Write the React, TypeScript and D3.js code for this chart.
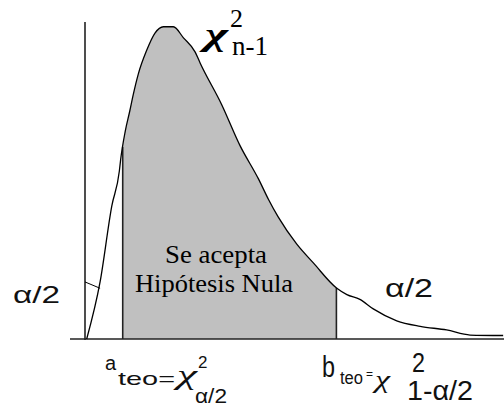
import React from "react";
import * as d3 from "d3";

// Chi-square density with n-1 degrees of freedom, sampled along the curve
const chiX = [0.04, 0.36, 0.64, 0.82, 0.85, 0.96, 1.07, 1.15, 1.27, 1.47, 1.67, 1.87, 2.11, 2.35, 2.63, 2.75, 3.26, 3.7, 4.14, 4.38, 4.61, 5.05, 5.45, 6.01, 6.25, 6.56, 6.88, 7.44, 8.0, 8.63, 9.19, 9.98];
const chiY = [0, 0.036, 0.084, 0.106, 0.113, 0.131, 0.144, 0.154, 0.167, 0.182, 0.193, 0.197, 0.197, 0.19, 0.181, 0.174, 0.148, 0.122, 0.101, 0.088, 0.077, 0.06, 0.048, 0.032, 0.028, 0.025, 0.019, 0.0115, 0.008, 0.0057, 0.0025, 0.0022];

// Critical values: acceptance region between a and b
const critA = 0.9;
const critB = 6.0;

// Leader line from the left alpha/2 label into the lower tail
const leaderFrom = [0, 0.036];
const leaderTo = [0.36, 0.032];

const W = 504;
const H = 412;

export default function App() {
  const x = d3.scaleLinear().domain([0, 10]).range([85, 504]);
  const y = d3.scaleLinear().domain([0, 0.2]).range([339, 22]);

  const pts: [number, number][] = chiX.map((v, i) => [v, chiY[i]]);
  const line = d3
    .line<[number, number]>()
    .x((d) => x(d[0]))
    .y((d) => y(d[1]))
    .curve(d3.curveMonotoneX);
  const area = d3
    .area<[number, number]>()
    .x((d) => x(d[0]))
    .y0(y(0))
    .y1((d) => y(d[1]))
    .curve(d3.curveMonotoneX);

  const interp = (v: number) => {
    const i = d3.bisectRight(chiX, v);
    const x0 = chiX[i - 1], x1 = chiX[i];
    const t = (v - x0) / (x1 - x0);
    return chiY[i - 1] + t * (chiY[i] - chiY[i - 1]);
  };

  const axisColor = "#222";
  const sans = "'Liberation Sans', Arial, sans-serif";
  const serif = "'Liberation Serif', 'Times New Roman', serif";

  return (
    <svg
      width={W}
      height={H}
      style={{ position: "absolute", left: 0, top: 0, background: "#fff" }}
    >
      <defs>
        <clipPath id="accept">
          <rect x={x(critA)} y={0} width={x(critB) - x(critA)} height={y(0)} />
        </clipPath>
      </defs>

      {/* acceptance region */}
      <path d={area(pts) || ""} fill="#c0c0c0" clipPath="url(#accept)" />

      {/* axes */}
      <line x1={x(0)} x2={x(0)} y1={y(0.2)} y2={y(0) + 1} stroke={axisColor} strokeWidth={1.6} />
      <line x1={70} x2={W} y1={y(0)} y2={y(0)} stroke={axisColor} strokeWidth={1.6} />

      {/* critical value bounds */}
      <line x1={x(critA)} x2={x(critA)} y1={y(0)} y2={y(interp(critA))} stroke={axisColor} strokeWidth={1.6} />
      <line x1={x(critB)} x2={x(critB)} y1={y(0)} y2={y(interp(critB))} stroke={axisColor} strokeWidth={1.6} />

      {/* density curve */}
      <path d={line(pts) || ""} fill="none" stroke="#000" strokeWidth={1.3} />

      {/* leader line */}
      <line
        x1={x(leaderFrom[0])}
        y1={y(leaderFrom[1])}
        x2={x(leaderTo[0])}
        y2={y(leaderTo[1])}
        stroke="#000"
        strokeWidth={1}
      />

      {/* curve title chi^2_{n-1} */}
      <text x={205} y={45} fontFamily={serif} fontWeight="bold" fontStyle="italic" fontSize={32} textLength={23} lengthAdjust="spacingAndGlyphs">χ</text>
      <text x={230} y={27} fontFamily={serif} fontSize={26}>2</text>
      <text x={232} y={55} fontFamily={serif} fontSize={27} textLength={36} lengthAdjust="spacingAndGlyphs">n-1</text>

      {/* region label */}
      <text x={165} y={263} fontFamily={serif} fontSize={25} textLength={102} lengthAdjust="spacingAndGlyphs">Se acepta</text>
      <text x={135} y={292} fontFamily={serif} fontSize={25} textLength={158} lengthAdjust="spacingAndGlyphs">Hipótesis Nula</text>

      {/* tail labels */}
      <text x={13} y={303} fontFamily={sans} fontSize={24} textLength={47} lengthAdjust="spacingAndGlyphs" fill="#111">α/2</text>
      <text x={385} y={297} fontFamily={sans} fontSize={26} textLength={48} lengthAdjust="spacingAndGlyphs" fill="#111">α/2</text>

      {/* lower critical value label */}
      <text x={105} y={370} fontFamily={sans} fontSize={20} fill="#111">a</text>
      <text x={118} y={385} fontFamily={sans} fontSize={19} textLength={57} lengthAdjust="spacingAndGlyphs" fill="#111">teo=</text>
      <text x={177} y={384} fontFamily={serif} fontSize={28} fontStyle="italic" textLength={20} lengthAdjust="spacingAndGlyphs" fill="#111">χ</text>
      <text x={198} y={368} fontFamily={sans} fontSize={17} fill="#111">2</text>
      <text x={195} y={403} fontFamily={sans} fontSize={20} textLength={32} lengthAdjust="spacingAndGlyphs" fill="#111">α/2</text>

      {/* upper critical value label */}
      <text x={322} y={377} fontFamily={sans} fontSize={30} textLength={13} lengthAdjust="spacingAndGlyphs" fill="#111">b</text>
      <text x={340} y={384} fontFamily={sans} fontSize={18} textLength={23} lengthAdjust="spacingAndGlyphs" fill="#111">teo</text>
      <text x={366} y={378} fontFamily={sans} fontSize={12} fill="#111">=</text>
      <text x={375} y={388} fontFamily={serif} fontSize={26} fontStyle="italic" textLength={15} lengthAdjust="spacingAndGlyphs" fill="#111">χ</text>
      <text x={412} y={372} fontFamily={sans} fontSize={28} textLength={13} lengthAdjust="spacingAndGlyphs" fill="#111">2</text>
      <text x={407} y={400} fontFamily={sans} fontSize={28} textLength={66} lengthAdjust="spacingAndGlyphs" fill="#111">1-α/2</text>
    </svg>
  );
}
